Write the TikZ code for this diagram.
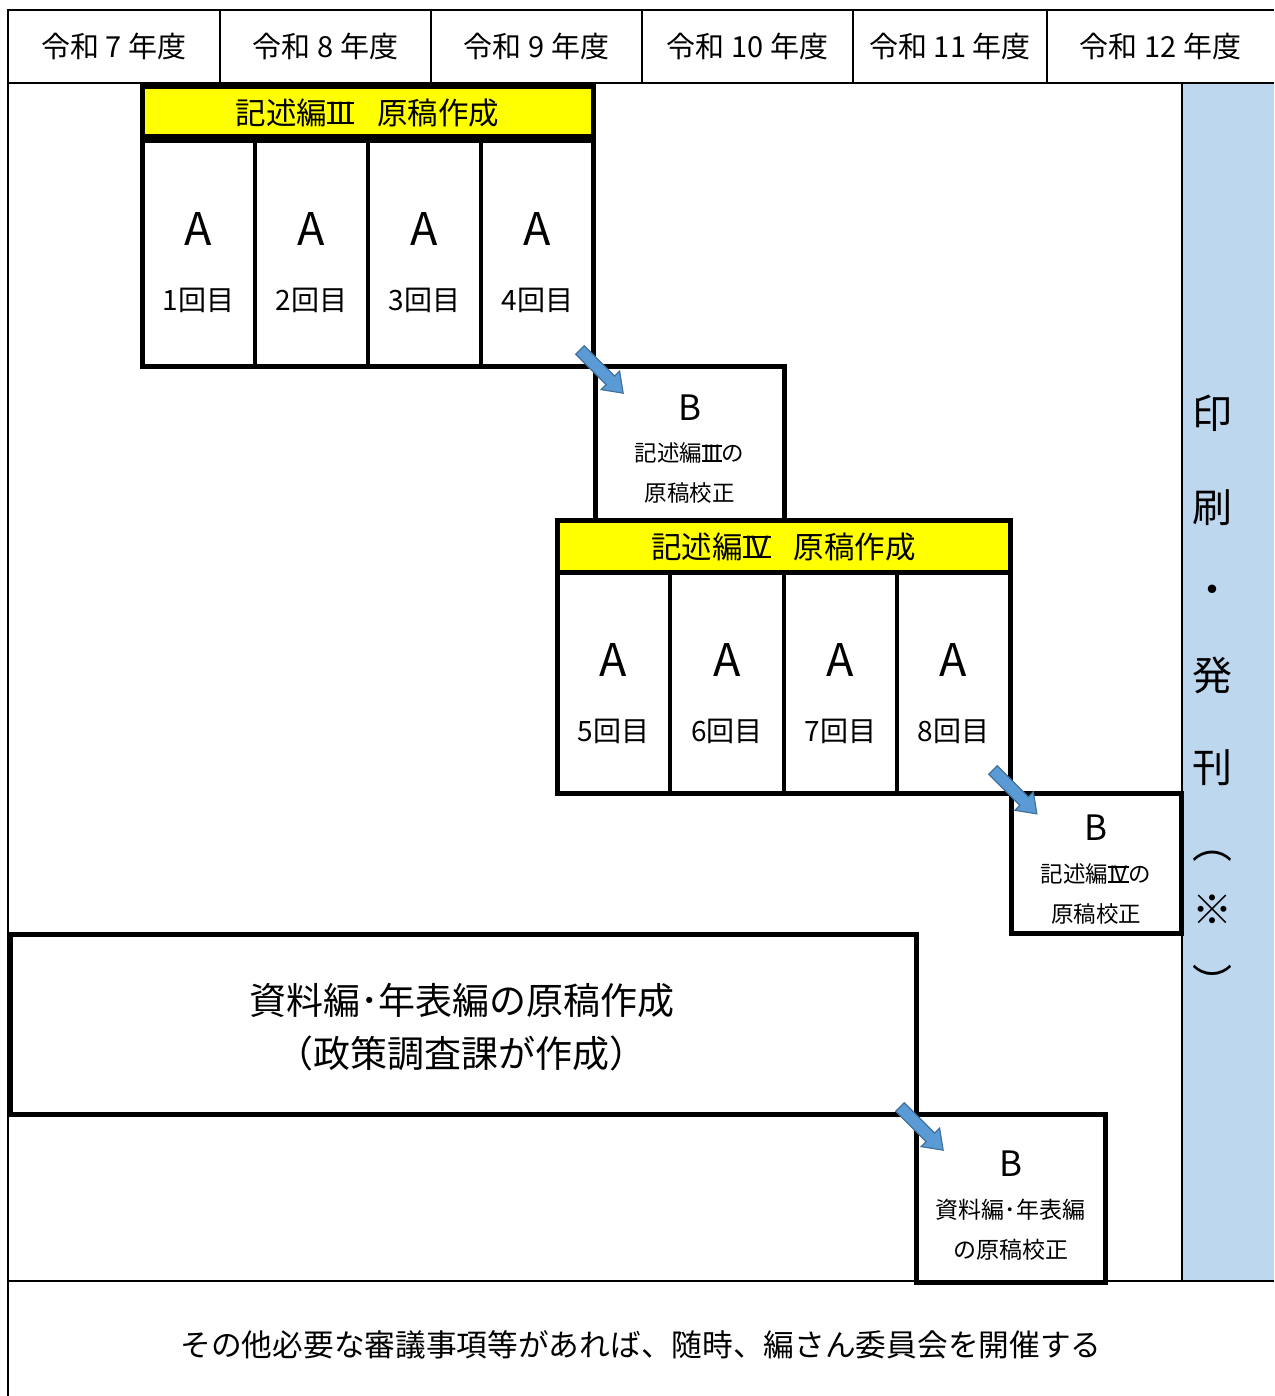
\documentclass[tikz,border=0pt]{standalone}
\usepackage{fontspec}
\setmainfont{Noto Sans CJK JP}
\definecolor{hdyellow}{HTML}{FFFF00}
\definecolor{colblue}{HTML}{BDD7EE}
\definecolor{arrfill}{HTML}{5B9BD5}
\definecolor{arrdraw}{HTML}{41719C}
\newcommand\romnum[1]{\setbox0\hbox{\kern0.04em #1\kern0.04em}\leavevmode\rlap{\rule[0pt]{\wd0}{0.07em}}\rlap{\rule[\dimexpr\ht0-0.07em\relax]{\wd0}{0.07em}}\box0\relax}
\newcommand\rthree{\romnum{I\kern-0.04em I\kern-0.04em I}}
\newcommand\rfour{\romnum{I\kern-0.04em V}}
\tikzset{
  thinline/.style={draw=black,line width=2pt},
  thickbox/.style={draw=black,line width=5pt},
  celldiv/.style={draw=black,line width=4pt},
  yellowhead/.style={fill=hdyellow,draw=black,line width=5pt},
  blockarrow/.style={fill=arrfill,draw=arrdraw,line width=1.2pt,line join=miter},
  txt/.style={inner sep=0pt,anchor=center,text=black},
  pics/barrow/.style={code={
    \path[blockarrow] (0,-6)--(#1-18,-6)--(#1-18,-13)--(#1,0)--(#1-18,13)--(#1-18,6)--(0,6)--cycle;}}
}
\begin{document}
\begin{tikzpicture}[x=1pt,y=-1pt]
\useasboundingbox (0,0) rectangle (1274,1396);
% blue column
\fill[colblue] (1183,84) rectangle (1274,1281);
% table lines
\draw[thinline] (8,10) -- (1274,10);
\draw[thinline] (8,83) -- (1274,83);
\draw[thinline] (8,1281) -- (1274,1281);
\draw[thinline] (8,9) -- (8,1396);
\foreach \xx in {220,431,642,853,1047} \draw[thinline] (\xx,10) -- (\xx,83);
\draw[line width=1.5pt] (1182,83) -- (1182,1281);
% header texts
\node[txt,font=\fontsize{29}{31}\selectfont] (y7) at (114,46) {令和 7 年度};
\node[txt,font=\fontsize{29}{31}\selectfont] (y8) at (325.5,46) {令和 8 年度};
\node[txt,font=\fontsize{29}{31}\selectfont] (y9) at (536.5,46) {令和 9 年度};
\node[txt,font=\fontsize{29}{31}\selectfont] (y10) at (747.5,46) {令和 10 年度};
\node[txt,font=\fontsize{29}{31}\selectfont] (y11) at (950,46) {令和 11 年度};
\node[txt,font=\fontsize{29}{31}\selectfont] (y12) at (1160.5,46) {令和 12 年度};
% block 1
\draw[yellowhead] (142,87) rectangle (593,137);
\draw[line width=2pt] (142,141) -- (593,141);
\draw[thickbox] (142,141) rectangle (593,366);
\foreach \xx in {255,368,481} \draw[celldiv] (\xx,141) -- (\xx,366);
\node[txt,font=\fontsize{30.5}{32}\selectfont] (h3) at (367.5,113) {記述編\rthree\hspace{0.75em}原稿作成};
\foreach \i/\xx in {1/198.5,2/311.5,3/424.5,4/537.5}{
  \node[txt,font=\fontsize{45}{48}\selectfont] (a\i) at (\xx,229) {A};
  \node[txt,font=\fontsize{28}{30}\selectfont] (n\i) at (\xx,300) {\i 回目};
}
% B1
\draw[thickbox] (595,366) rectangle (784,520);
\node[txt,font=\fontsize{35}{38}\selectfont] (b1) at (689.5,408) {B};
\node[txt,font=\fontsize{22.5}{24}\selectfont] (b1a) at (689.5,453) {記述編\rthree の};
\node[txt,font=\fontsize{22.5}{24}\selectfont] (b1b) at (689.5,493) {原稿校正};
% block 2
\draw[yellowhead] (557,520) rectangle (1010,572);
\draw[thickbox] (557,572) rectangle (1010,793);
\foreach \xx in {670,784,897} \draw[celldiv] (\xx,572) -- (\xx,793);
\node[txt,font=\fontsize{30.5}{32}\selectfont] (h4) at (783.5,547) {記述編\rfour\hspace{0.75em}原稿作成};
\foreach \i/\xx in {5/613.5,6/727,7/840.5,8/953.5}{
  \node[txt,font=\fontsize{45}{48}\selectfont] (a\i) at (\xx,660) {A};
  \node[txt,font=\fontsize{28}{30}\selectfont] (n\i) at (\xx,731) {\i 回目};
}
% B2
\draw[thickbox] (1011,793) rectangle (1181,933);
\node[txt,font=\fontsize{35}{38}\selectfont] (b2) at (1096,828) {B};
\node[txt,font=\fontsize{22.5}{24}\selectfont] (b2a) at (1096,874) {記述編\rfour の};
\node[txt,font=\fontsize{22.5}{24}\selectfont] (b2b) at (1096,914) {原稿校正};
% big box
\draw[thickbox] (10,934) rectangle (916,1114);
\node[txt,font=\fontsize{37}{40}\selectfont] (s1) at (462,1000) {資料編･年表編の原稿作成};
\node[txt,font=\fontsize{37}{40}\selectfont] (s2) at (461,1053) {（政策調査課が作成）};
% B3
\draw[thickbox] (916,1114) rectangle (1105,1282);
\node[txt,font=\fontsize{35}{38}\selectfont] (b3) at (1010.5,1164) {B};
\node[txt,font=\fontsize{23}{25}\selectfont] (b3a) at (1010.5,1210) {資料編･年表編};
\node[txt,font=\fontsize{23}{25}\selectfont] (b3b) at (1010.5,1250) {の原稿校正};
% arrows
\pic[rotate=-45] at (580,350) {barrow=61};
\pic[rotate=-45] at (993,770) {barrow=62};
\pic[rotate=-45] at (900,1107) {barrow=61};
% vertical text
\foreach \c/\yy/\nm in {印/413/v1,刷/508/v2,・/595/v3,発/675/v4,刊/768/v5,︵/856/v6,※/910/v7,︶/982/v8}
  \node[txt,font=\fontsize{40}{42}\selectfont] (\nm) at (1212,\yy) {\c};
% bottom text
\node[txt,font=\fontsize{30.7}{32}\selectfont] (foot) at (641,1345) {その他必要な審議事項等があれば、随時、編さん委員会を開催する};
\end{tikzpicture}
\end{document}
